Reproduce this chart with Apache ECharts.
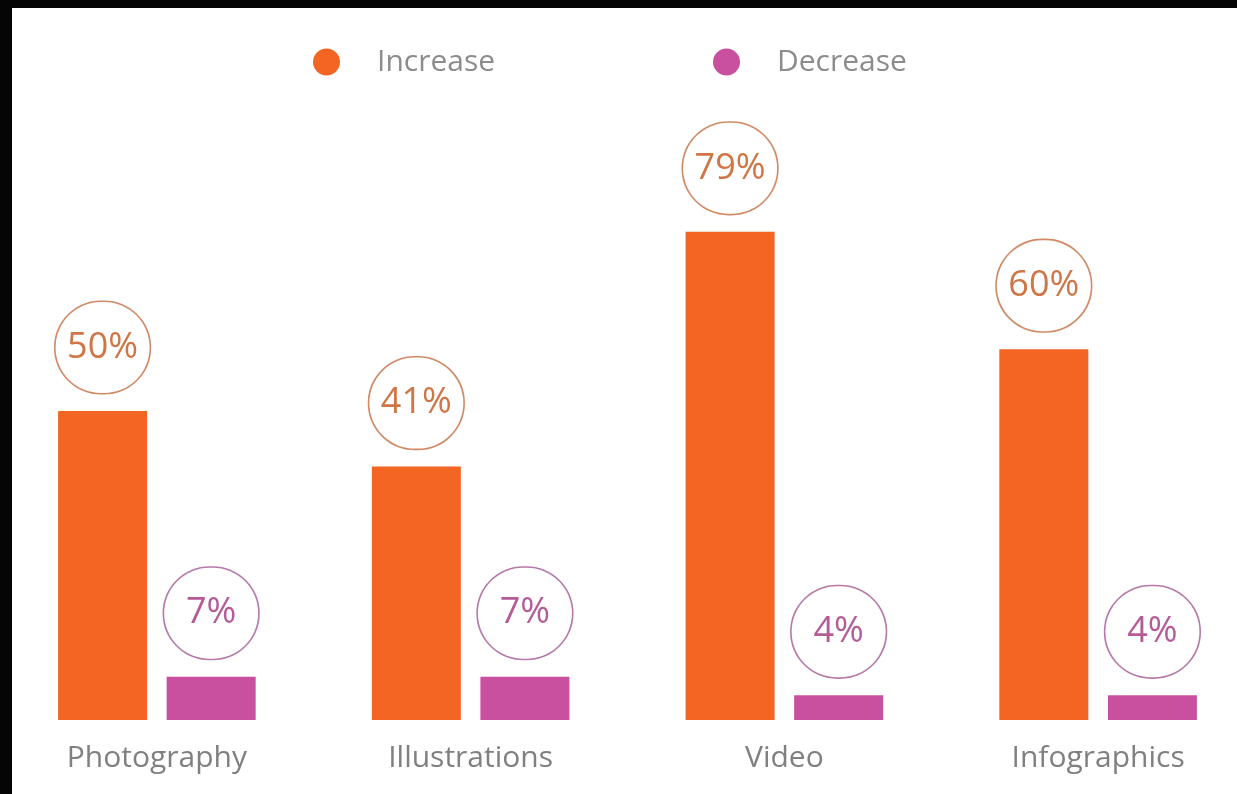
<!DOCTYPE html>
<html>
<head>
<meta charset="utf-8">
<script src="https://cdn.jsdelivr.net/npm/echarts@6/dist/echarts.min.js"></script>
<style>
html,body{margin:0;padding:0;background:#fff;overflow:hidden;}
#c{width:1260px;height:794px;}
</style>
</head>
<body>
<div id="c"></div>
<script>
const categories = ['Photography', 'Illustrations', 'Video', 'Infographics'];
const increaseValues = [50, 41, 79, 60];
const decreaseValues = [7, 7, 4, 4];
const seriesNames = ['Increase', 'Decrease'];

const ORANGE = '#F26522';
const PURPLE = '#C9509E';

function circleLabel(textColor, borderColor) {
  return {
    show: true,
    position: 'top',
    distance: 18,
    formatter: '{c}%',
    color: textColor,
    fontFamily: 'Open Sans',
    fontSize: 36,
    width: 94,
    height: 91,
    lineHeight: 91,
    align: 'center',
    borderColor: borderColor,
    borderWidth: 1.6,
    borderRadius: 47,
    backgroundColor: '#fff'
  };
}

const chart = echarts.init(document.getElementById('c'));
chart.setOption({
  backgroundColor: '#fff',
  animation: false,
  graphic: [
    {type: 'rect', left: 0, top: 0, shape: {width: 1260, height: 8}, style: {fill: '#050505'}},
    {type: 'rect', left: 0, top: 0, shape: {width: 12, height: 794}, style: {fill: '#050505'}}
  ],
  legend: [
    {
      data: [seriesNames[0]], left: 308, top: 42, icon: 'circle',
      itemWidth: 27, itemHeight: 27,
      textStyle: {color: '#8c8c8c', fontSize: 30, fontFamily: 'Open Sans', padding: [0, 0, 0, 32]}
    },
    {
      data: [seriesNames[1]], left: 708, top: 42, icon: 'circle',
      itemWidth: 27, itemHeight: 27,
      textStyle: {color: '#8c8c8c', fontSize: 30, fontFamily: 'Open Sans', padding: [0, 0, 0, 32]}
    }
  ],
  grid: {left: -3, width: 1258, top: 102, bottom: 74},
  xAxis: {
    type: 'category',
    data: categories,
    axisLine: {show: false},
    axisTick: {show: false},
    axisLabel: {color: '#808080', fontSize: 30, fontFamily: 'Open Sans', margin: 23}
  },
  yAxis: {
    type: 'value', min: 0, max: 100,
    show: false,
    splitLine: {show: false}
  },
  series: [
    {
      name: seriesNames[0], type: 'bar', data: increaseValues,
      barWidth: 89, barGap: '22%',
      itemStyle: {color: ORANGE},
      label: circleLabel('#CF7546', '#D08A66')
    },
    {
      name: seriesNames[1], type: 'bar', data: decreaseValues,
      barWidth: 89,
      itemStyle: {color: PURPLE},
      label: circleLabel('#B55C98', '#B77AA8')
    }
  ]
});
</script>
</body>
</html>
